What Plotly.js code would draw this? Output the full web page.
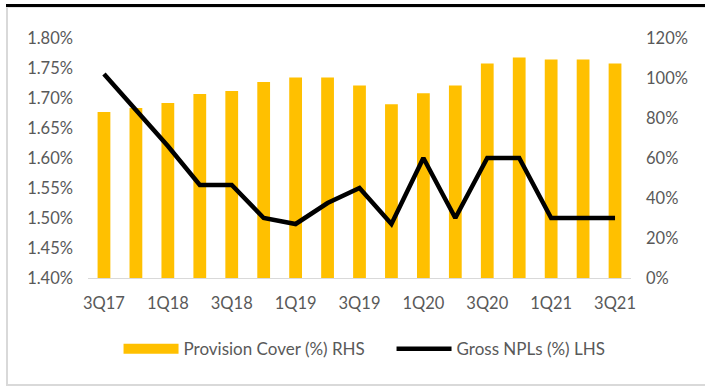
<!DOCTYPE html>
<html>
<head>
<meta charset="utf-8">
<script src="https://cdn.plot.ly/plotly-3.0.1.min.js"></script>
<style>
  html, body { margin: 0; padding: 0; background: #fff; overflow: hidden; }
  #wrap { position: relative; width: 705px; height: 387px; overflow: hidden; }
  #chart { width: 705px; height: 387px; }
  #topbar { position: absolute; left: 6px; top: 4px; width: 699px; height: 3px;
            background: #000; pointer-events: none; }
  #frame { position: absolute; left: 6px; top: 7px; width: 710px; height: 379px;
           border-left: 2px solid #d9d9d9; border-top: 1px solid #e3e3e3;
           border-bottom: 2px solid #d9d9d9; box-sizing: border-box; pointer-events: none; }
</style>
</head>
<body>
<div id="wrap">
  <div id="chart"></div>
  <div id="topbar"></div>
  <div id="frame"></div>
</div>
<script>
// Quarterly series
const quarters = ['3Q17','4Q17','1Q18','2Q18','3Q18','4Q18','1Q19','2Q19','3Q19',
                  '4Q19','1Q20','2Q20','3Q20','4Q20','1Q21','2Q21','3Q21'];
// Provision cover, % (right-hand scale)
const provisionCover = [83, 85, 87.5, 92, 93.5, 98, 100.3, 100.2, 96.2,
                        86.9, 92.4, 96.2, 107.3, 110.3, 109.3, 109.3, 107.3];
// Gross NPLs, % (left-hand scale)
const grossNPLs = [1.74, 1.68, 1.62, 1.555, 1.555, 1.50, 1.49, 1.525, 1.55,
                   1.49, 1.60, 1.50, 1.60, 1.60, 1.50, 1.50, 1.50];
// Every other quarter is labelled
const tickQuarters = quarters.filter((q, i) => i % 2 === 0);

const family = 'Lato, "Liberation Sans", Arial, sans-serif';
const tickFont = { family: family, size: 16.5, color: '#595959' };
const legendFont = { family: family, size: 17, color: '#595959' };

const traces = [
  {
    type: 'bar', x: quarters, y: provisionCover, yaxis: 'y',
    marker: { color: '#FFC000' }, width: 0.4, showlegend: false,
    name: 'Provision Cover (%) RHS', hoverinfo: 'x+y'
  },
  {
    // legend swatch for the bars
    type: 'scatter', mode: 'lines', x: [null], y: [null], yaxis: 'y',
    line: { color: '#FFC000', width: 11 }, name: 'Provision Cover (%) RHS'
  },
  {
    type: 'scatter', mode: 'lines', x: quarters, y: grossNPLs, yaxis: 'y2',
    line: { color: '#000000', width: 4.5 }, name: 'Gross NPLs (%) LHS'
  }
];

const layout = {
  width: 705, height: 387,
  margin: { l: 88, r: 74, t: 37.5, b: 108.5, autoexpand: false },
  paper_bgcolor: '#ffffff', plot_bgcolor: '#ffffff',
  font: tickFont,
  xaxis: {
    type: 'category', tickvals: tickQuarters, ticktext: tickQuarters,
    showline: true, linecolor: '#d9d9d9', linewidth: 1,
    ticks: '', showgrid: false, zeroline: false, ticklabelstandoff: 10,
    tickfont: tickFont, fixedrange: true
  },
  yaxis: {
    side: 'right', range: [0, 120], dtick: 20, ticksuffix: '%',
    showgrid: false, zeroline: false, showline: false, ticks: '',
    ticklabelstandoff: 14, tickfont: tickFont, fixedrange: true
  },
  yaxis2: {
    side: 'left', overlaying: 'y', range: [1.40, 1.80], dtick: 0.05,
    tickformat: '.2f', ticksuffix: '%',
    showgrid: false, zeroline: false, showline: false, ticks: '',
    ticklabelstandoff: 14, tickfont: tickFont, fixedrange: true
  },
  legend: {
    orientation: 'h', x: 0.559, xanchor: 'center', y: -0.297, yanchor: 'middle',
    font: legendFont, itemwidth: 55, traceorder: 'normal', bgcolor: 'rgba(0,0,0,0)',
    entrywidth: 203, entrywidthmode: 'pixels'
  },
  showlegend: true
};

Plotly.newPlot('chart', traces, layout, { displayModeBar: false, staticPlot: true });
</script>
</body>
</html>
